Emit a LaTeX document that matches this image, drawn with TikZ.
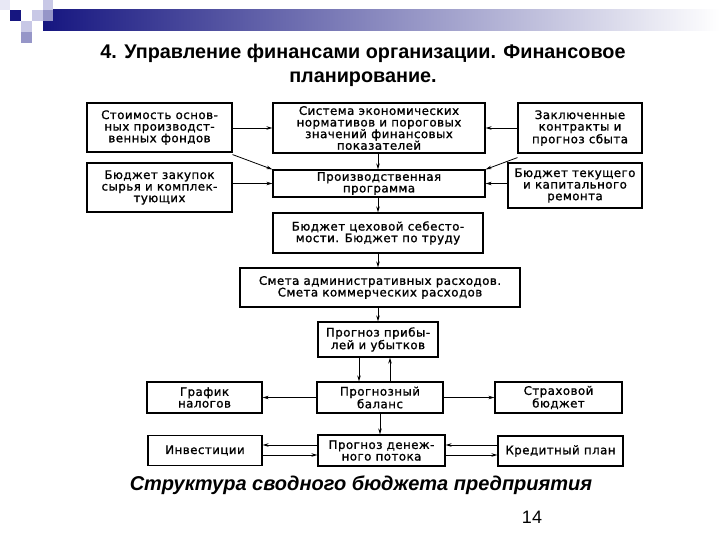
\documentclass[tikz,border=0pt]{standalone}
\usepackage{fontspec}
\setmainfont{Liberation Sans}
\newfontfamily\boxfont[LetterSpace=4,FakeBold=1.2]{DejaVu Sans}
\usetikzlibrary{arrows.meta}
\definecolor{navy}{RGB}{22,22,128}
\definecolor{lav}{RGB}{200,200,230}
\definecolor{midlav}{RGB}{150,150,200}
\definecolor{pale}{RGB}{232,232,245}
\begin{document}
\begin{tikzpicture}[x=1pt,y=-1pt,
  box/.style={draw, line width=1.2pt, fill=white, align=center, inner sep=1pt,
    font=\boxfont\fontsize{11.8}{11.6}\selectfont},
  arr/.style={-{Stealth[length=6pt,width=3.5pt]}, line width=0.8pt}]
\useasboundingbox (0,0) rectangle (720,540);
\fill[white] (0,0) rectangle (720,540);
% header decoration
\shade[left color=navy, right color=white] (43,10) rectangle (720,31);
\fill[pale] (0,0) rectangle (10,10);
\fill[lav] (43,0) rectangle (53,10);
\fill[navy] (10,10) rectangle (21,21);
\fill[lav] (32,10) rectangle (43,21);
\fill[midlav] (43,10) rectangle (53,21);
\fill[lav] (21,21) rectangle (32,32);
\fill[midlav] (21,32) rectangle (32,43);
% title
\node[font=\bfseries\fontsize{19.8}{24}\selectfont, align=center] (title) at (363,65)
  {4. Управление финансами организации. Финансовое\\планирование.};
% boxes
\node[box, minimum width=145pt, minimum height=49pt] (b1) at (159.5,127.5) {Стоимость основ-\\ных производст-\\венных фондов};
\node[box, minimum width=145pt, minimum height=49pt] (b2) at (159.5,187.5) {Бюджет закупок\\сырья и комплек-\\тующих};
\node[box, minimum width=212pt, minimum height=50pt] (b3) at (379,128) {Система экономических\\нормативов и пороговых\\значений финансовых\\показателей};
\node[box, minimum width=212pt, minimum height=27pt] (prod) at (379,183.5) {Производственная\\программа};
\node[box, minimum width=124pt, minimum height=50pt] (b5) at (580,128) {Заключенные\\контракты и\\прогноз сбыта};
\node[box, minimum width=134pt, minimum height=45pt] (b6) at (575,185.5) {Бюджет текущего\\и капитального\\ремонта};
\node[box, minimum width=210pt, minimum height=40pt] (b7) at (378,233) {Бюджет цеховой себесто-\\мости. Бюджет по труду};
\node[box, minimum width=280pt, minimum height=39pt] (b8) at (380,287.5) {Смета административных расходов.\\Смета коммерческих расходов};
\node[box, minimum width=120pt, minimum height=35pt] (b9) at (378,339.5) {Прогноз прибы-\\лей и убытков};
\node[box, minimum width=126pt, minimum height=31pt] (b10) at (380,397.5) {Прогнозный\\баланс};
\node[box, minimum width=115pt, minimum height=31pt] (b11) at (204.5,397.5) {График\\налогов};
\node[box, minimum width=127pt, minimum height=31pt] (b12) at (558.5,397.5) {Страховой\\бюджет};
\node[box, minimum width=127pt, minimum height=31pt] (b13) at (381.5,450.5) {Прогноз денеж-\\ного потока};
\node[box, minimum width=114pt, minimum height=30pt] (b14) at (205,450.5) {Инвестиции};
\node[box, minimum width=125pt, minimum height=30pt] (b15) at (560.5,451) {Кредитный план};
% connectors
\draw[arr] (b1.east |- b3.west) -- (b3.west);
\draw[arr] ([yshift=-2pt]b1.south east) -- (prod.north west);
\draw[arr] (b2.east |- prod.west) -- (prod.west);
\draw[arr] (b5.west |- b3.east) -- (b3.east);
\draw[arr] ([yshift=-4pt]b5.south west) -- (prod.north east);
\draw[arr] (b6.west |- prod.east) -- (prod.east);
\draw[arr] (b3.south -| b7.north) -- (prod.north -| b7.north);
\draw[arr] (prod.south -| b7.north) -- (b7.north);
\draw[arr] (b7.south) -- (b7.south |- b8.north);
\draw[arr] (b8.south -| b9.north) -- (b9.north);
\draw[arr] ([xshift=-19pt]b9.south) -- ([xshift=-19pt]b9.south |- b10.north);
\draw[arr] ([xshift=12pt]b9.south |- b10.north) -- ([xshift=12pt]b9.south);
\draw[arr] (b10.west) -- (b11.east);
\draw[arr] (b10.east) -- (b12.west);
\draw[arr] (b10.south) -- (b10.south |- b13.north);
\draw[arr] ([yshift=-4.5pt]b14.east) -- ([yshift=-4.5pt]b13.west);
\draw[arr] ([yshift=5.5pt]b13.west) -- ([yshift=5.5pt]b14.east);
\draw[arr] ([yshift=-4.5pt]b13.east) -- ([yshift=-4.5pt]b15.west |- b13.east);
\draw[arr] ([yshift=5.5pt]b15.west |- b13.east) -- ([yshift=5.5pt]b13.east);
% caption
\node[font=\bfseries\itshape\fontsize{20}{24}\selectfont] (cap) at (361,485) {Структура сводного бюджета предприятия};
\node[font=\fontsize{18}{22}\selectfont] (num) at (532,517) {14};
\end{tikzpicture}
\end{document}
